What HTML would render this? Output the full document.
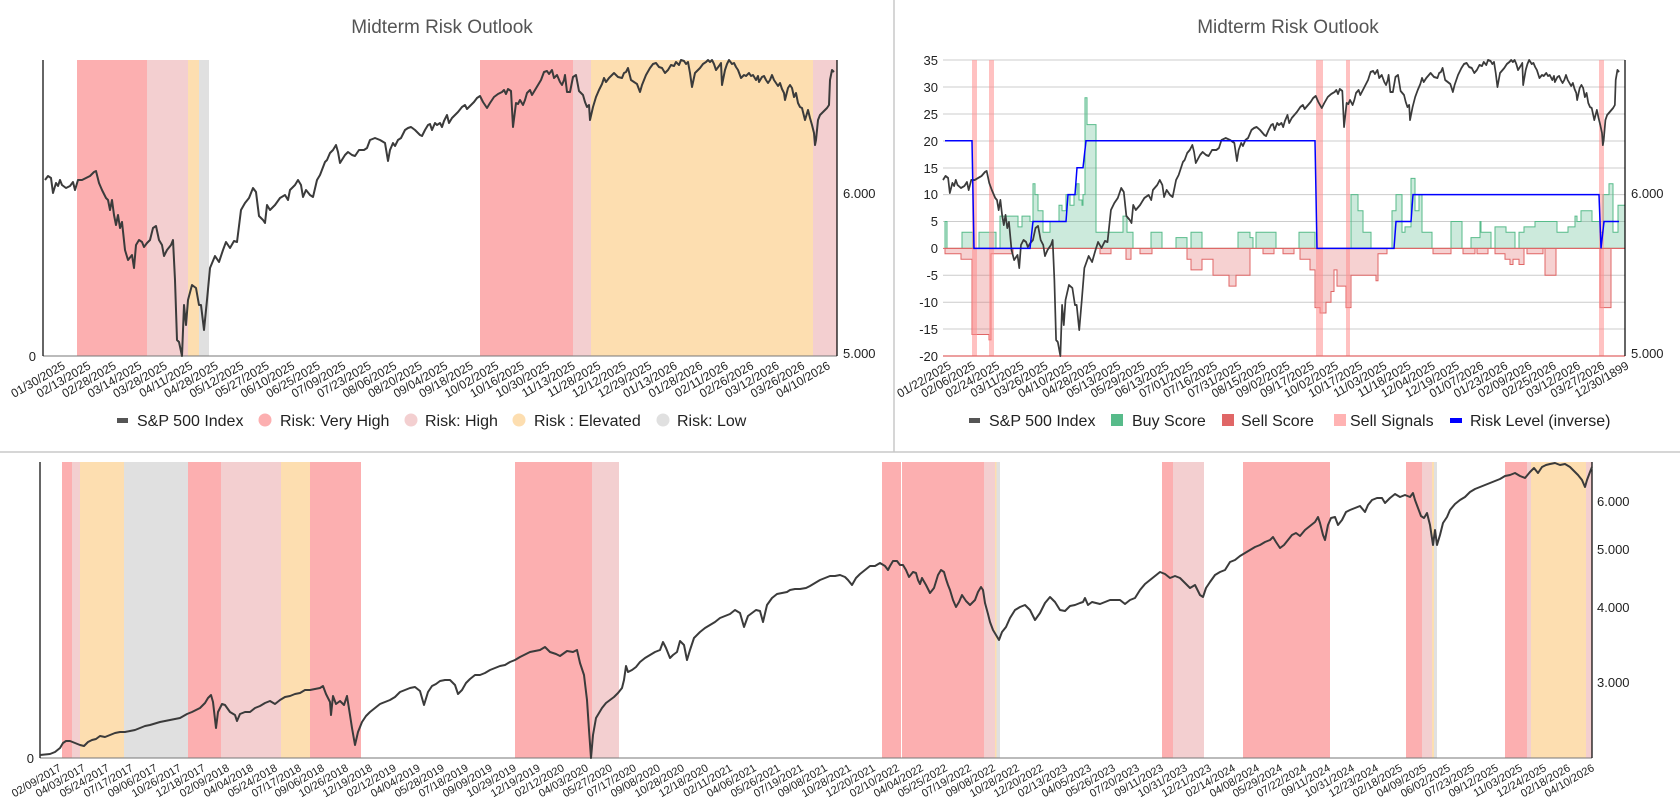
<!DOCTYPE html>
<html><head><meta charset="utf-8"><style>
html,body{margin:0;padding:0;background:#fff;}
svg{display:block;font-family:"Liberation Sans",Arial,sans-serif;}
.xl{font-size:12px;fill:#222;text-anchor:end;}
.xb{font-size:11px;fill:#222;text-anchor:end;}
.ax{font-size:13px;fill:#222;}
.lg{font-size:16px;fill:#222;}
.tt{font-size:19px;fill:#555;text-anchor:middle;}
</style></head><body>
<svg width="1680" height="812" viewBox="0 0 1680 812" xmlns="http://www.w3.org/2000/svg">
<rect width="1680" height="812" fill="#fff"/>
<line x1="894" y1="0" x2="894" y2="452" stroke="#c8c8c8" stroke-width="1.5"/>
<line x1="0" y1="452" x2="1680" y2="452" stroke="#c8c8c8" stroke-width="1.5"/>

<!-- TOP LEFT -->
<text class="tt" x="442" y="33">Midterm Risk Outlook</text>
<g>
<rect x="77" y="60" width="70" height="296" fill="#fcafb0"/>
<rect x="147" y="60" width="41" height="296" fill="#f3cfd0"/>
<rect x="188" y="60" width="11" height="296" fill="#fddeb0"/>
<rect x="199" y="60" width="10" height="296" fill="#e0e0e0"/>
<rect x="480" y="60" width="93" height="296" fill="#fcafb0"/>
<rect x="573" y="60" width="18" height="296" fill="#f3cfd0"/>
<rect x="591" y="60" width="222" height="296" fill="#fddeb0"/>
<rect x="813" y="60" width="24" height="296" fill="#f3cfd0"/>
</g>
<line x1="43" y1="356" x2="837" y2="356" stroke="#777" stroke-width="1"/>
<line x1="43" y1="60" x2="43" y2="356" stroke="#000" stroke-width="1.2"/>
<line x1="837" y1="60" x2="837" y2="356" stroke="#000" stroke-width="1.2"/>
<text class="ax" x="36" y="361" text-anchor="end">0</text>
<text class="ax" x="843" y="198">6.000</text>
<text class="ax" x="843" y="358">5.000</text>
<polyline id="spx" fill="none" stroke="#3b3b3b" stroke-width="2" stroke-linejoin="round" points="45,180 48,176 51,178 53,193 56,183 58,186 60,180 62,185 66,188 70,186 73,182 75,190 78,180 82,180 86,178 90,176 94,172 96,171 99,183 102,190 106,198 108,200 110,210 112,200 114,215 116,225 118,215 120,228 122,222 125,250 128,260 132,255 134,268 136,245 139,240 142,242 144,247 147,243 150,240 153,228 156,226 159,240 162,245 164,256 167,250 171,245 173,240 175,280 177,340 179,342 182,356 184,305 186,325 188,300 192,285 196,288 199,305 201,305 204,330 207,300 210,268 215,256 219,262 223,250 226,242 230,248 234,241 237,242 241,210 245,203 249,198 253,188 256,192 259,216 263,220 265,223 267,205 270,210 275,205 280,198 285,195 288,200 290,190 295,185 298,180 301,185 303,197 306,190 310,195 313,197 317,180 320,175 325,162 327,160 330,153 333,150 336,145 338,152 340,163 345,155 348,152 352,155 355,156 359,150 364,150 367,148 370,140 375,138 380,140 385,143 388,161 390,150 393,143 395,146 398,140 401,138 405,130 408,128 411,127 415,130 420,135 422,136 425,130 428,125 430,124 432,130 435,123 437,125 440,123 442,127 444,121 447,115 449,123 452,118 455,115 458,112 462,107 465,105 467,109 471,105 474,102 477,98 480,96 483,102 487,108 490,103 494,97 498,94 502,92 504,90 506,94 508,89 511,91 513,127 516,103 518,104 520,100 523,105 525,100 527,93 530,90 532,95 535,90 538,85 541,80 544,72 547,71 549,74 552,70 554,78 557,75 560,82 562,85 564,80 565,75 567,92 570,92 573,77 576,75 579,91 583,95 585,102 587,107 589,105 590,120 593,107 596,97 599,90 602,84 604,78 606,82 609,78 612,75 614,73 616,75 618,77 622,78 624,73 626,72 628,68 631,80 634,82 637,84 640,92 642,85 646,75 650,68 653,64 656,63 659,67 662,68 665,73 668,70 671,65 674,66 676,62 679,65 681,60 684,61 686,64 688,62 690,73 692,87 695,73 698,70 700,68 703,64 706,62 708,60 710,62 712,60 714,64 716,70 719,66 721,63 722,85 725,70 727,64 729,60 732,64 734,63 736,67 738,70 741,78 744,75 746,76 749,73 751,76 753,75 756,80 758,76 759,82 762,77 764,76 766,80 768,83 770,80 772,75 774,80 776,83 778,86 780,83 782,89 784,93 785,100 788,88 790,85 792,88 794,97 796,93 798,103 800,107 802,108 805,120 808,110 810,118 812,125 814,133 815,145 816,140 818,120 820,115 822,113 825,110 827,108 829,105 830,80 832,70 834,72"/>
<g class="xl">
<text transform="translate(66,368) rotate(-30)">01/30/2025</text>
<text transform="translate(91.5,368) rotate(-30)">02/13/2025</text>
<text transform="translate(117,368) rotate(-30)">02/28/2025</text>
<text transform="translate(142.5,368) rotate(-30)">03/14/2025</text>
<text transform="translate(168,368) rotate(-30)">03/28/2025</text>
<text transform="translate(193.5,368) rotate(-30)">04/11/2025</text>
<text transform="translate(219,368) rotate(-30)">04/28/2025</text>
<text transform="translate(244.5,368) rotate(-30)">05/12/2025</text>
<text transform="translate(270,368) rotate(-30)">05/27/2025</text>
<text transform="translate(295.5,368) rotate(-30)">06/10/2025</text>
<text transform="translate(321,368) rotate(-30)">06/25/2025</text>
<text transform="translate(346.5,368) rotate(-30)">07/09/2025</text>
<text transform="translate(372,368) rotate(-30)">07/23/2025</text>
<text transform="translate(397.5,368) rotate(-30)">08/06/2025</text>
<text transform="translate(423,368) rotate(-30)">08/20/2025</text>
<text transform="translate(448.5,368) rotate(-30)">09/04/2025</text>
<text transform="translate(474,368) rotate(-30)">09/18/2025</text>
<text transform="translate(499.5,368) rotate(-30)">10/02/2025</text>
<text transform="translate(525,368) rotate(-30)">10/16/2025</text>
<text transform="translate(550.5,368) rotate(-30)">10/30/2025</text>
<text transform="translate(576,368) rotate(-30)">11/13/2025</text>
<text transform="translate(601.5,368) rotate(-30)">11/28/2025</text>
<text transform="translate(627,368) rotate(-30)">12/12/2025</text>
<text transform="translate(652.5,368) rotate(-30)">12/29/2025</text>
<text transform="translate(678,368) rotate(-30)">01/13/2026</text>
<text transform="translate(703.5,368) rotate(-30)">01/28/2026</text>
<text transform="translate(729,368) rotate(-30)">02/11/2026</text>
<text transform="translate(754.5,368) rotate(-30)">02/26/2026</text>
<text transform="translate(780,368) rotate(-30)">03/12/2026</text>
<text transform="translate(805.5,368) rotate(-30)">03/26/2026</text>
<text transform="translate(831,368) rotate(-30)">04/10/2026</text>
</g>
<g class="lg">
<rect x="117" y="418" width="11" height="5" fill="#555"/>
<text x="137" y="426">S&amp;P 500 Index</text>
<circle cx="265" cy="420" r="6.5" fill="#fcafb0"/>
<text x="280" y="426">Risk: Very High</text>
<circle cx="411" cy="420" r="6.5" fill="#f3cfd0"/>
<text x="425" y="426">Risk: High</text>
<circle cx="519" cy="420" r="6.5" fill="#fddeb0"/>
<text x="534" y="426">Risk : Elevated</text>
<circle cx="663" cy="420" r="6.5" fill="#e0e0e0"/>
<text x="677" y="426">Risk: Low</text>
</g>

<!-- TOP RIGHT -->
<text class="tt" x="1288" y="33">Midterm Risk Outlook</text>
<g stroke="#cccccc" stroke-width="1">
<line x1="943" y1="60" x2="1625" y2="60"/><line x1="943" y1="87" x2="1625" y2="87"/>
<line x1="943" y1="114" x2="1625" y2="114"/><line x1="943" y1="141" x2="1625" y2="141"/>
<line x1="943" y1="168" x2="1625" y2="168"/><line x1="943" y1="194.6" x2="1625" y2="194.6"/>
<line x1="943" y1="221.5" x2="1625" y2="221.5"/><line x1="943" y1="275.3" x2="1625" y2="275.3"/>
<line x1="943" y1="302.2" x2="1625" y2="302.2"/><line x1="943" y1="329" x2="1625" y2="329"/>
</g>
<g class="ax" text-anchor="end">
<text x="938" y="65">35</text><text x="938" y="92">30</text><text x="938" y="119">25</text>
<text x="938" y="146">20</text><text x="938" y="173">15</text><text x="938" y="199">10</text>
<text x="938" y="226">5</text><text x="938" y="253">0</text><text x="938" y="280">-5</text>
<text x="938" y="307">-10</text><text x="938" y="334">-15</text><text x="938" y="361">-20</text>
</g>
<text class="ax" x="1631" y="198">6.000</text>
<text class="ax" x="1631" y="358">5.000</text>
<path fill="rgba(87,187,138,0.3)" stroke="#57bb8a" stroke-width="1" d="M945,248.4 V221.5 H947 V248.4 H962 V232.3 H973 V248.4 H979 V232.3 H996 V248.4 H1000 V216.1 H1018 V226.9 H1022 V216.1 H1030 V221.5 H1033 V183.8 H1035 V194.6 H1038 V210.7 H1043 V232.3 H1050 V221.5 H1059 V205.3 H1062 V210.7 H1066 V194.6 H1070 V205.3 H1074 V194.6 H1077 V183.8 H1079 V200 H1082 V205.3 H1083 V194.6 H1085 V97.7 H1087 V124.6 H1096 V232.3 H1123 V216.1 H1127 V232.3 H1133 V248.4 H1151 V232.3 H1162 V248.4 H1176 V237.6 H1187 V248.4 H1191 V232.3 H1202 V248.4 H1238 V232.3 H1250 V237.6 H1253 V248.4 H1256 V232.3 H1276 V248.4 H1299 V232.3 H1315 V248.4 H1351 V194.6 H1358 V210.7 H1363 V232.3 H1371 V248.4 H1392 V210.7 H1396 V194.6 H1402 V232.3 H1405 V226.9 H1411 V178.4 H1415 V210.7 H1419 V194.6 H1422 V232.3 H1432 V248.4 H1451 V221.5 H1462 V248.4 H1471 V237.6 H1480 V221.5 H1481 V232.3 H1491 V248.4 H1495 V226.9 H1506 V232.3 H1515 V248.4 H1519 V232.3 H1524 V226.9 H1535 V221.5 H1557 V232.3 H1568 V226.9 H1575 V216.1 H1577 V221.5 H1581 V210.7 H1592 V221.5 H1600 V232.3 H1603 V194.6 H1609 V183.8 H1613 V232.3 H1618 V205.3 H1625 V248.4 Z"/>
<path fill="rgba(224,102,102,0.3)" stroke="#e06666" stroke-width="1" d="M945,248.4 V253.8 H961 V259.2 H972 V334.5 H989 V339.9 H991 V253.8 H1013 V248.4 H1100 V253.8 H1111 V248.4 H1126 V259.2 H1131 V248.4 H1140 V253.8 H1152 V248.4 H1187 V259.2 H1191 V269.9 H1202 V259.2 H1213 V275.3 H1229 V286.1 H1236 V275.3 H1250 V248.4 H1263 V253.8 H1274 V248.4 H1283 V253.8 H1294 V248.4 H1300 V259.2 H1310 V269.9 H1315 V307.6 H1320 V313 H1326 V302.2 H1331 V291.5 H1334 V269.9 H1337 V286.1 H1346 V307.6 H1351 V275.3 H1376 V280.7 H1378 V253.8 H1387 V248.4 H1433 V253.8 H1451 V248.4 H1463 V253.8 H1475 V248.4 H1477 V253.8 H1488 V248.4 H1495 V253.8 H1505 V259.2 H1510 V264.5 H1513 V259.2 H1519 V264.5 H1524 V248.4 H1527 V253.8 H1543 V248.4 H1545 V275.3 H1556 V248.4 H1600 V307.6 H1611 V248.4 H1625 Z"/>
<g fill="#ff8f8f" opacity="0.55">
<rect x="972" y="60" width="5" height="296"/><rect x="989" y="60" width="5" height="296"/>
<rect x="1316" y="60" width="7" height="296"/><rect x="1346" y="60" width="4" height="296"/>
<rect x="1599" y="60" width="5" height="296"/>
</g>
<line x1="943" y1="248.4" x2="1625" y2="248.4" stroke="#e06666" stroke-width="1"/>
<line x1="943" y1="356" x2="1625" y2="356" stroke="#e06666" stroke-width="1.2"/>
<line x1="1625" y1="60" x2="1625" y2="356" stroke="#000" stroke-width="1.2"/>
<use href="#spx" transform="translate(904.4,0) scale(0.857,1)" style="vector-effect:non-scaling-stroke"/>
<path fill="none" stroke="#0000ff" stroke-width="1.5" d="M945,140.8 H972 L974,248.4 H1030 L1033,221.5 H1066 L1068,194.6 H1075 L1077,167.7 H1083 L1086,140.8 H1315 L1317,248.4 H1394 L1396,221.5 H1411 L1413,194.6 H1599 L1601,248.4 L1604,221.5 H1619"/>
<g class="xl">
<text transform="translate(952,368) rotate(-30)">01/22/2025</text>
<text transform="translate(976.2,368) rotate(-30)">02/06/2025</text>
<text transform="translate(1000.4,368) rotate(-30)">02/24/2025</text>
<text transform="translate(1024.6,368) rotate(-30)">03/11/2025</text>
<text transform="translate(1048.8,368) rotate(-30)">03/26/2025</text>
<text transform="translate(1073,368) rotate(-30)">04/10/2025</text>
<text transform="translate(1097.2,368) rotate(-30)">04/28/2025</text>
<text transform="translate(1121.4,368) rotate(-30)">05/13/2025</text>
<text transform="translate(1145.6,368) rotate(-30)">05/29/2025</text>
<text transform="translate(1169.8,368) rotate(-30)">06/13/2025</text>
<text transform="translate(1194,368) rotate(-30)">07/01/2025</text>
<text transform="translate(1218.2,368) rotate(-30)">07/16/2025</text>
<text transform="translate(1242.4,368) rotate(-30)">07/31/2025</text>
<text transform="translate(1266.6,368) rotate(-30)">08/15/2025</text>
<text transform="translate(1290.8,368) rotate(-30)">09/02/2025</text>
<text transform="translate(1315,368) rotate(-30)">09/17/2025</text>
<text transform="translate(1339.2,368) rotate(-30)">10/02/2025</text>
<text transform="translate(1363.4,368) rotate(-30)">10/17/2025</text>
<text transform="translate(1387.6,368) rotate(-30)">11/03/2025</text>
<text transform="translate(1411.8,368) rotate(-30)">11/18/2025</text>
<text transform="translate(1436,368) rotate(-30)">12/04/2025</text>
<text transform="translate(1460.2,368) rotate(-30)">12/19/2025</text>
<text transform="translate(1484.4,368) rotate(-30)">01/07/2026</text>
<text transform="translate(1508.6,368) rotate(-30)">01/23/2026</text>
<text transform="translate(1532.8,368) rotate(-30)">02/09/2026</text>
<text transform="translate(1557,368) rotate(-30)">02/25/2026</text>
<text transform="translate(1581.2,368) rotate(-30)">03/12/2026</text>
<text transform="translate(1605.4,368) rotate(-30)">03/27/2026</text>
<text transform="translate(1629.6,368) rotate(-30)">12/30/1899</text>
</g>
<g class="lg">
<rect x="969" y="418" width="11" height="5" fill="#555"/>
<text x="989" y="426">S&amp;P 500 Index</text>
<rect x="1111" y="414" width="12" height="12" fill="#57bb8a"/>
<text x="1132" y="426">Buy Score</text>
<rect x="1222" y="414" width="12" height="12" fill="#e06666"/>
<text x="1241" y="426">Sell Score</text>
<rect x="1334" y="414" width="12" height="12" fill="#ffb3b3"/>
<text x="1350" y="426">Sell Signals</text>
<rect x="1450" y="418" width="12" height="5" fill="#0000ff"/>
<text x="1470" y="426">Risk Level (inverse)</text>
</g>

<!-- BOTTOM -->
<g>
<rect x="62" y="462" width="10" height="296" fill="#fcafb0"/>
<rect x="72" y="462" width="8" height="296" fill="#f3cfd0"/>
<rect x="80" y="462" width="44" height="296" fill="#fddeb0"/>
<rect x="124" y="462" width="64" height="296" fill="#e0e0e0"/>
<rect x="188" y="462" width="33" height="296" fill="#fcafb0"/>
<rect x="221" y="462" width="60" height="296" fill="#f3cfd0"/>
<rect x="281" y="462" width="29" height="296" fill="#fddeb0"/>
<rect x="310" y="462" width="51" height="296" fill="#fcafb0"/>
<rect x="515" y="462" width="77" height="296" fill="#fcafb0"/>
<rect x="592" y="462" width="27" height="296" fill="#f3cfd0"/>
<rect x="882" y="462" width="19" height="296" fill="#fcafb0"/>
<rect x="902" y="462" width="82" height="296" fill="#fcafb0"/>
<rect x="984" y="462" width="11" height="296" fill="#f3cfd0"/>
<rect x="995" y="462" width="1.5" height="296" fill="#fddeb0"/>
<rect x="996.5" y="462" width="3.5" height="296" fill="#e0e0e0"/>
<rect x="1162" y="462" width="11" height="296" fill="#fcafb0"/>
<rect x="1173" y="462" width="31" height="296" fill="#f3cfd0"/>
<rect x="1243" y="462" width="87" height="296" fill="#fcafb0"/>
<rect x="1406" y="462" width="16" height="296" fill="#fcafb0"/>
<rect x="1422" y="462" width="10" height="296" fill="#f3cfd0"/>
<rect x="1432" y="462" width="2" height="296" fill="#fddeb0"/>
<rect x="1434" y="462" width="3" height="296" fill="#e0e0e0"/>
<rect x="1505" y="462" width="22" height="296" fill="#fcafb0"/>
<rect x="1527" y="462" width="4" height="296" fill="#f3cfd0"/>
<rect x="1531" y="462" width="55" height="296" fill="#fddeb0"/>
<rect x="1586" y="462" width="6" height="296" fill="#f3cfd0"/>
</g>
<line x1="40" y1="758" x2="1592" y2="758" stroke="#777" stroke-width="1"/>
<line x1="40" y1="462" x2="40" y2="758" stroke="#000" stroke-width="1.2"/>
<line x1="1592" y1="462" x2="1592" y2="758" stroke="#000" stroke-width="1.2"/>
<text class="ax" x="34" y="763" text-anchor="end">0</text>
<text class="ax" x="1597" y="506">6.000</text>
<text class="ax" x="1597" y="554">5.000</text>
<text class="ax" x="1597" y="612">4.000</text>
<text class="ax" x="1597" y="687">3.000</text>
<polyline fill="none" stroke="#3b3b3b" stroke-width="2" stroke-linejoin="round" points="40,755 50,754 55,752 60,748 63,743 66,741 70,741 75,743 80,745 84,746 88,742 92,740 96,739 100,736 105,737 110,735 115,733 120,732 125,732 130,731 135,730 140,728 145,726 150,725 160,722 170,720 180,718 187,714 192,712 200,708 205,703 208,698 211,695 213,702 216,728 218,712 222,704 225,705 230,712 235,715 237,721 240,714 245,712 250,712 255,708 260,706 265,703 270,701 275,704 280,700 285,697 290,696 295,694 300,693 305,690 310,690 315,689 320,688 323,686 326,694 330,702 331,715 333,696 336,704 340,701 344,705 347,696 350,715 352,728 355,745 358,732 362,722 366,716 370,712 375,708 380,704 385,702 390,700 395,697 400,692 405,690 410,688 415,687 420,691 424,705 428,692 432,686 436,684 440,681 445,680 450,680 455,685 458,694 462,690 466,683 470,679 475,675 480,675 485,673 490,670 495,668 500,666 505,665 510,662 515,660 520,657 522,656 530,652 540,650 545,647 550,652 556,654 560,656 567,651 573,652 577,650 580,663 584,675 587,700 589,730 591,758 593,735 596,718 599,713 602,708 606,703 610,700 614,697 618,693 622,688 624,680 626,666 628,672 632,670 636,667 640,662 645,658 650,655 655,652 660,650 663,642 666,648 670,658 673,655 677,652 680,641 684,645 687,660 690,650 694,638 700,632 705,628 710,625 715,622 720,618 725,616 730,614 735,610 740,613 744,627 748,616 752,613 756,610 760,611 763,622 767,605 772,598 777,594 782,593 787,592 790,590 795,589 800,589 806,588 810,586 815,583 820,580 825,578 830,576 835,576 840,575 845,577 848,580 852,585 856,578 860,574 865,570 870,566 875,566 880,563 885,566 888,570 890,566 893,561 897,561 900,565 903,565 906,570 909,577 913,572 916,573 918,580 920,584 922,578 926,585 930,593 934,588 938,575 941,570 944,572 946,579 948,585 950,590 953,600 956,607 959,602 962,595 966,601 970,605 975,600 978,592 981,587 983,590 985,603 988,614 990,622 993,630 996,635 999,640 1002,632 1006,627 1010,618 1015,610 1020,607 1025,605 1030,610 1035,620 1040,613 1045,603 1050,597 1055,602 1060,610 1065,611 1070,606 1075,605 1080,603 1083,602 1085,598 1088,605 1092,602 1100,604 1110,600 1120,600 1125,604 1130,600 1135,598 1140,590 1145,584 1150,580 1155,576 1160,572 1165,574 1170,578 1175,576 1180,578 1185,583 1190,588 1195,585 1200,595 1203,597 1206,588 1210,582 1215,575 1220,572 1225,570 1230,562 1235,560 1240,556 1245,553 1250,550 1255,547 1260,545 1265,542 1270,540 1273,537 1276,542 1280,548 1284,545 1288,540 1292,535 1296,533 1300,536 1305,530 1310,526 1315,522 1318,517 1320,523 1323,535 1325,540 1328,525 1331,518 1335,517 1338,525 1342,520 1346,512 1350,510 1355,508 1360,506 1365,512 1368,505 1372,500 1377,498 1382,498 1385,503 1390,498 1395,494 1400,497 1405,495 1410,497 1413,493 1415,500 1418,508 1421,516 1424,518 1427,513 1430,525 1433,545 1435,530 1437,545 1440,535 1443,523 1447,517 1450,510 1455,504 1460,500 1465,497 1470,492 1475,489 1480,487 1485,485 1490,483 1495,481 1500,479 1505,476 1510,475 1515,473 1520,476 1525,478 1530,472 1534,468 1538,473 1542,467 1546,465 1550,464 1555,463 1560,465 1565,464 1570,467 1574,471 1578,475 1582,480 1585,487 1587,480 1590,472 1592,467"/>
<g class="xb">
<text transform="translate(62,770) rotate(-30)">02/09/2017</text>
<text transform="translate(86,770) rotate(-30)">04/03/2017</text>
<text transform="translate(110,770) rotate(-30)">05/24/2017</text>
<text transform="translate(134,770) rotate(-30)">07/17/2017</text>
<text transform="translate(158,770) rotate(-30)">09/06/2017</text>
<text transform="translate(182,770) rotate(-30)">10/26/2017</text>
<text transform="translate(206,770) rotate(-30)">12/18/2017</text>
<text transform="translate(230,770) rotate(-30)">02/09/2018</text>
<text transform="translate(254,770) rotate(-30)">04/04/2018</text>
<text transform="translate(278,770) rotate(-30)">05/24/2018</text>
<text transform="translate(302,770) rotate(-30)">07/17/2018</text>
<text transform="translate(325,770) rotate(-30)">09/06/2018</text>
<text transform="translate(349,770) rotate(-30)">10/26/2018</text>
<text transform="translate(373,770) rotate(-30)">12/19/2018</text>
<text transform="translate(397,770) rotate(-30)">02/12/2019</text>
<text transform="translate(421,770) rotate(-30)">04/04/2019</text>
<text transform="translate(445,770) rotate(-30)">05/28/2019</text>
<text transform="translate(469,770) rotate(-30)">07/18/2019</text>
<text transform="translate(493,770) rotate(-30)">09/09/2019</text>
<text transform="translate(517,770) rotate(-30)">10/29/2019</text>
<text transform="translate(541,770) rotate(-30)">12/19/2019</text>
<text transform="translate(565,770) rotate(-30)">02/12/2020</text>
<text transform="translate(589,770) rotate(-30)">04/03/2020</text>
<text transform="translate(613,770) rotate(-30)">05/27/2020</text>
<text transform="translate(637,770) rotate(-30)">07/17/2020</text>
<text transform="translate(661,770) rotate(-30)">09/08/2020</text>
<text transform="translate(685,770) rotate(-30)">10/28/2020</text>
<text transform="translate(709,770) rotate(-30)">12/18/2020</text>
<text transform="translate(733,770) rotate(-30)">02/11/2021</text>
<text transform="translate(757,770) rotate(-30)">04/06/2021</text>
<text transform="translate(781,770) rotate(-30)">05/26/2021</text>
<text transform="translate(804,770) rotate(-30)">07/19/2021</text>
<text transform="translate(828,770) rotate(-30)">09/08/2021</text>
<text transform="translate(852,770) rotate(-30)">10/28/2021</text>
<text transform="translate(876,770) rotate(-30)">12/20/2021</text>
<text transform="translate(900,770) rotate(-30)">02/10/2022</text>
<text transform="translate(924,770) rotate(-30)">04/04/2022</text>
<text transform="translate(948,770) rotate(-30)">05/25/2022</text>
<text transform="translate(972,770) rotate(-30)">07/19/2022</text>
<text transform="translate(996,770) rotate(-30)">09/08/2022</text>
<text transform="translate(1020,770) rotate(-30)">10/28/2022</text>
<text transform="translate(1044,770) rotate(-30)">12/20/2022</text>
<text transform="translate(1068,770) rotate(-30)">02/13/2023</text>
<text transform="translate(1092,770) rotate(-30)">04/05/2023</text>
<text transform="translate(1116,770) rotate(-30)">05/26/2023</text>
<text transform="translate(1140,770) rotate(-30)">07/20/2023</text>
<text transform="translate(1164,770) rotate(-30)">09/11/2023</text>
<text transform="translate(1188,770) rotate(-30)">10/31/2023</text>
<text transform="translate(1212,770) rotate(-30)">12/21/2023</text>
<text transform="translate(1236,770) rotate(-30)">02/14/2024</text>
<text transform="translate(1260,770) rotate(-30)">04/08/2024</text>
<text transform="translate(1283,770) rotate(-30)">05/29/2024</text>
<text transform="translate(1307,770) rotate(-30)">07/22/2024</text>
<text transform="translate(1331,770) rotate(-30)">09/11/2024</text>
<text transform="translate(1355,770) rotate(-30)">10/31/2024</text>
<text transform="translate(1379,770) rotate(-30)">12/23/2024</text>
<text transform="translate(1403,770) rotate(-30)">02/18/2025</text>
<text transform="translate(1427,770) rotate(-30)">04/09/2025</text>
<text transform="translate(1451,770) rotate(-30)">06/02/2025</text>
<text transform="translate(1475,770) rotate(-30)">07/23/2025</text>
<text transform="translate(1499,770) rotate(-30)">09/12/2025</text>
<text transform="translate(1523,770) rotate(-30)">11/03/2025</text>
<text transform="translate(1547,770) rotate(-30)">12/24/2025</text>
<text transform="translate(1571,770) rotate(-30)">02/18/2026</text>
<text transform="translate(1595,770) rotate(-30)">04/10/2026</text>
</g>
</svg>
</body></html>
